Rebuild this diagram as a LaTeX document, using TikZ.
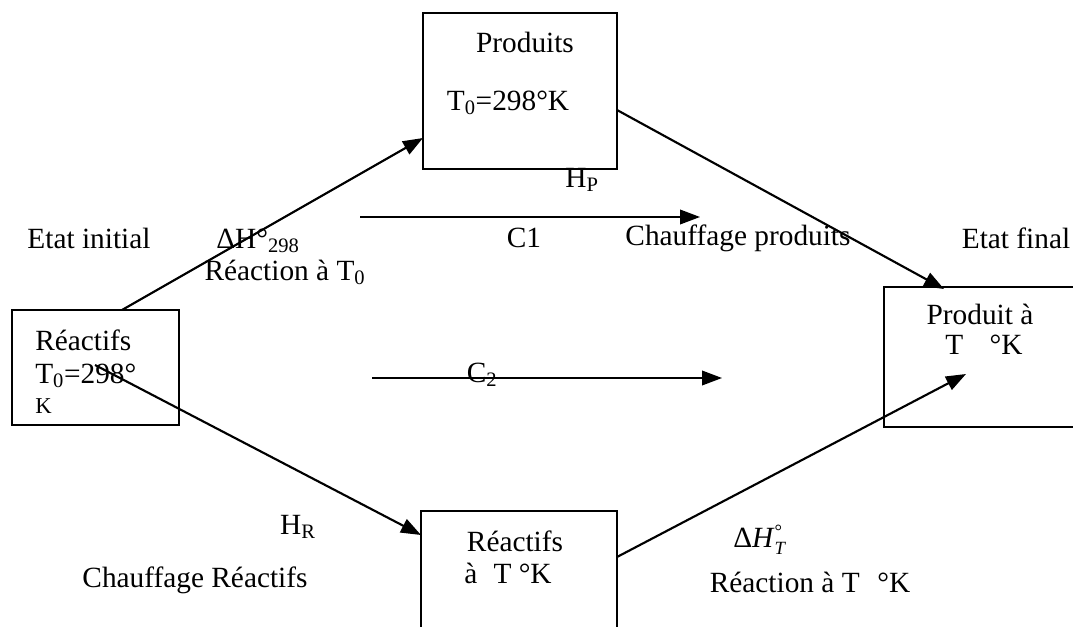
\documentclass[tikz,border=0pt]{standalone}
\usepackage{fontspec}
\setmainfont{Liberation Serif}
\usetikzlibrary{arrows.meta}
\begin{document}
\begin{tikzpicture}[x=0.75pt,y=-0.75pt,
  box/.style={draw, line width=1.2pt, inner sep=0pt},
  lbl/.style={font=\fontsize{22}{26}\selectfont, inner sep=0pt},
  arr/.style={line width=1.6pt, -{Triangle[length=15pt,width=11pt]}},
  harr/.style={line width=1.2pt, -{Triangle[length=15pt,width=11pt]}}]
\clip (0,0) rectangle (1073,627);
\fill[white] (0,0) rectangle (1073,627);
% boxes
\node[box, minimum width=145.5pt, minimum height=117pt] (prod) at (520,91) {};
\node[box, minimum width=125.25pt, minimum height=86.25pt] (reac) at (95.5,367.5) {};
\node[box, minimum width=147pt, minimum height=105pt] (fin) at (982,357) {};
\node[box, minimum width=147pt, minimum height=104.25pt] (reacT) at (519,580.5) {};
% box texts
\node[lbl] (t1) at (525,42) {Produits};
\node[lbl] (t2) at (508,103) {T\textsubscript{0}=298°K};
\node[lbl, anchor=west] (t3) at (35,340) {Réactifs};
\node[lbl, anchor=west] (t4) at (35,376) {T\textsubscript{0}=298°};
\node[lbl, anchor=west, font=\fontsize{17}{20}\selectfont] (t5) at (35,406) {K};
\node[lbl] (t6) at (980,314) {Produit à};
\node[lbl] (t7) at (984,345) {T\hspace{0.9em}°K};
\node[lbl] (t8) at (515,541) {Réactifs};
\node[lbl] (t9) at (508,573) {à\hspace{0.3em} T °K};
% free labels
\node[lbl] (l1) at (89,238) {Etat initial};
\node[lbl] (l2) at (258,241) {ΔH°\textsubscript{298}};
\node[lbl] (l3) at (524,238) {C1};
\node[lbl] (l4) at (738,238) {Chauffage produits};
\node[lbl] (l5) at (1016,238) {Etat final};
\node[lbl] (l6) at (285,272) {Réaction à T\textsubscript{0}};
\node[lbl] (l7) at (582,180) {H\textsubscript{P}};
\node[lbl] (l8) at (482,375) {C\textsubscript{2}};
\node[lbl] (l9) at (298,527) {H\textsubscript{R}};
\node[lbl] (l10) at (760,540) {Δ\textit{H}$^{\mbox{\fontsize{14}{14}\selectfont °}}_{\mbox{\fontsize{14}{14}\selectfont\textit{T}}}$};
\node[lbl] (l11) at (195,580) {Chauffage Réactifs};
\node[lbl] (l12) at (810,582) {Réaction à T\hspace{0.6em}°K};
% connector end points
\coordinate (a1s) at (122,310);
\coordinate (a1e) at (423,138);
\coordinate (a2s) at (617,110);
\coordinate (a2e) at (944,289);
\coordinate (a3s) at (95,365);
\coordinate (a3e) at (421,535);
\coordinate (a4s) at (617,557);
\coordinate (a4e) at (966,374);
\coordinate (c1s) at (360,217);
\coordinate (c1e) at (700,217);
\coordinate (c2s) at (372,378);
\coordinate (c2e) at (722,378);
% connectors
\draw[arr] (a1s) -- (a1e);
\draw[arr] (a2s) -- (a2e);
\draw[arr] (a3s) -- (a3e);
\draw[arr] (a4s) -- (a4e);
\draw[harr] (c1s) -- (c1e);
\draw[harr] (c2s) -- (c2e);
\end{tikzpicture}
\end{document}
